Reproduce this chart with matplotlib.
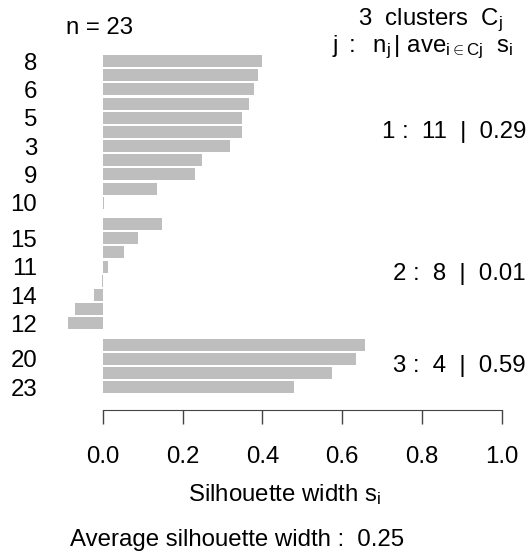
import numpy as np
import matplotlib
matplotlib.use("Agg")
import matplotlib.pyplot as plt
import matplotlib.transforms as mtransforms

plt.rcParams["font.family"] = ["Liberation Sans", "DejaVu Sans"]
plt.rcParams["mathtext.fontset"] = "custom"
plt.rcParams["mathtext.rm"] = "Liberation Sans"
plt.rcParams["mathtext.it"] = "Liberation Sans"
plt.rcParams["mathtext.sf"] = "Liberation Sans"

# silhouette widths per cluster, top to bottom
sil_c1 = [0.400, 0.388, 0.378, 0.367, 0.349, 0.348, 0.319, 0.248, 0.231, 0.135, 0.002]
sil_c2 = [0.148, 0.089, 0.053, 0.0125, -0.003, -0.023, -0.071, -0.088]
sil_c3 = [0.657, 0.634, 0.575, 0.480]

# observation labels, only those R managed to print
lab_c1 = ["8", "", "6", "", "5", "", "3", "", "9", "", "10"]
lab_c2 = ["", "15", "", "11", "", "14", "", "12"]
lab_c3 = ["", "20", "", "23"]

clusters = [sil_c1, sil_c2, sil_c3]
labels = lab_c1 + lab_c2 + lab_c3
ticks = [0.0, 0.2, 0.4, 0.6, 0.8, 1.0]

W, H = 531, 555
fig = plt.figure(figsize=(W / 100, H / 100), dpi=100)
ax = fig.add_axes([50.5 / W, 1 - 410 / H, (519 - 50.5) / W, (410 - 38.2) / H])

fs = 17.3
ypos, vals, centers, summary = [], [], [], []
y = 0.0
for k, s in enumerate(clusters):
    ys = y + np.arange(len(s))
    ypos.extend(ys)
    vals.extend(s)
    centers.append(ys.mean())
    summary.append((k + 1, len(s), np.mean(s)))
    y = ys[-1] + 1.5

ax.barh(ypos, vals, height=0.85, color="#bebebe", linewidth=0)

xmin = min(0, min(vals))
pad = 0.04 * (1 - xmin)
ax.set_xlim(xmin - pad, 1 + pad)
pad_y = 1.61
ax.set_ylim(ypos[-1] + pad_y, -pad_y)

for sp in ["top", "right", "left"]:
    ax.spines[sp].set_visible(False)
ax.spines["bottom"].set_bounds(0, 1)
ax.spines["bottom"].set_color("#444444")
ax.set_xticks(ticks)
ax.set_xticklabels([f"{t:.1f}" for t in ticks], fontsize=fs)
ax.tick_params(axis="x", length=10, width=1, color="#444444", pad=16)
ax.set_yticks(ypos)
ax.set_yticklabels(labels, fontsize=fs)
ax.tick_params(axis="y", length=0, pad=9.7)

# x-axis title and footer in figure coords
fig.text(285 / W, 1 - 495 / H, r"Silhouette width $\mathrm{s_i}$", fontsize=fs,
         ha="center", va="center")
fig.text(70 / W, 1 - 540 / H, "Average silhouette width :  0.25", fontsize=fs,
         ha="left", va="center")

# cluster summaries, right-aligned in the margin
tr = mtransforms.blended_transform_factory(fig.transFigure, ax.transData)
for (k, n, m), c in zip(summary, centers):
    ax.text(526 / W, c, f"{k} :  {n}  |  {m:.2f}", transform=tr,
            fontsize=fs, ha="right", va="center")

fig.text(66 / W, 1 - 28 / H, "n = 23", fontsize=fs, ha="left", va="center")
fig.text(503 / W, 1 - 20 / H, r"3  clusters  $\mathrm{C_j}$", fontsize=fs, ha="right", va="center")
fig.text(513 / W, 1 - 47 / H, r"$\mathrm{j\ :\ \ n_j\,|\ ave_{i\in Cj}\ \ s_i}$",
         fontsize=fs, ha="right", va="center")

fig.savefig("out.png", dpi=100, facecolor="white")
